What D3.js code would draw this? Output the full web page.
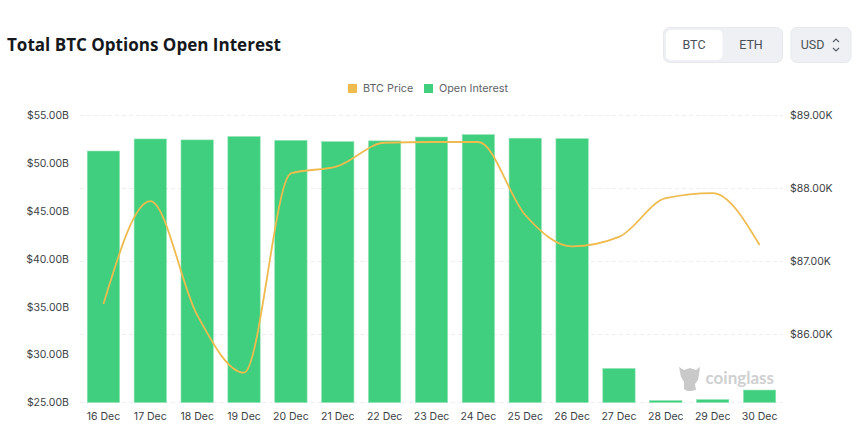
<!DOCTYPE html>
<html><head><meta charset="utf-8">
<script src="https://cdn.jsdelivr.net/npm/d3@7"></script>
<style>html,body{margin:0;padding:0;background:#fff}svg{display:block}text{font-family:Inter,Roboto,sans-serif}</style>
</head><body><svg id="c" width="860" height="425"></svg>
<script>
const categories=["16 Dec","17 Dec","18 Dec","19 Dec","20 Dec","21 Dec","22 Dec","23 Dec","24 Dec","25 Dec","26 Dec","27 Dec","28 Dec","29 Dec","30 Dec"];
const openInterest=[51.24,52.5,52.4,52.75,52.35,52.22,52.3,52.7,52.95,52.58,52.53,28.55,25.2,25.3,26.3];
const btcPrice=[86.41,87.82,86.26,85.47,88.2,88.3,88.62,88.63,88.63,87.63,87.2,87.33,87.86,87.93,87.22];
const leftTicks=[25,30,35,40,45,50,55];
const rightTicks=[86,87,88,89];
const legendItems=["BTC Price","Open Interest"];
const colors={price:"#efbb4f",oi:"#3fcf7e"};

const svg=d3.select("#c");
const x=d3.scaleBand().domain(categories).range([80,783]).paddingInner(0.31).paddingOuter(0.155);
const yL=d3.scaleLinear().domain([25,55]).range([402.5,115]);
const yR=d3.scaleLinear().domain([86,89]).range([334,115]);

svg.append("g").selectAll("line").data(rightTicks.concat([85.07])).join("line")
 .attr("x1",80).attr("x2",783).attr("y1",d=>Math.round(yR(d))+.5).attr("y2",d=>Math.round(yR(d))+.5)
 .attr("stroke","#eceef0").attr("stroke-dasharray","4 3");

svg.append("g").selectAll("rect").data(categories).join("rect")
 .attr("x",d=>x(d)).attr("width",x.bandwidth())
 .attr("y",(d,i)=>yL(openInterest[i])).attr("height",(d,i)=>yL(25)-yL(openInterest[i]))
 .attr("fill",colors.oi).attr("stroke","#8fe3b4").attr("stroke-width",0.6);

const wm=svg.append("g").attr("fill","#c9c9c9");
wm.append("path").attr("d",d3.line().curve(d3.curveLinearClosed)([[679,367],[684,370],[690,368],[696,370],[700,367],[699,374],[698,380],[695,384],[696,390],[691,391],[687,391],[684,389],[684,382],[681,377]]));
wm.append("text").attr("x",705.5).attr("y",384).attr("font-size",17).attr("font-weight",700).attr("fill","#cfd0d1").style("font-family","Lato,sans-serif").text("coinglass");

svg.append("path").datum(btcPrice).attr("fill","none").attr("stroke",colors.price).attr("stroke-width",1.8)
 .attr("d",d3.line().x((d,i)=>x(categories[i])+x.bandwidth()/2).y(d=>yR(d)).curve(d3.curveMonotoneX));

const tc="#3c3f44";
const gL=svg.append("g").attr("transform","translate(69,0)").call(d3.axisLeft(yL).tickValues(leftTicks).tickSize(0).tickPadding(0).tickFormat(d=>"$"+d.toFixed(2)+"B"));
const gR=svg.append("g").attr("transform","translate(790,0)").call(d3.axisRight(yR).tickValues(rightTicks).tickSize(0).tickPadding(0).tickFormat(d=>"$"+d.toFixed(2)+"K"));
const gB=svg.append("g").attr("transform","translate(0,403)").call(d3.axisBottom(x).tickSize(0).tickPadding(10));
gL.select(".domain").remove();gR.select(".domain").remove();gB.select(".domain").remove();
gL.selectAll("text").attr("font-size",10.5).attr("fill",tc).style("font-family","Inter,sans-serif");
gR.selectAll("text").attr("font-size",10.5).attr("fill",tc).style("font-family","Inter,sans-serif");
gB.selectAll("text").attr("font-size",10.5).attr("fill",tc).style("font-family","Inter,sans-serif");

const lg=svg.append("g");
[[348,colors.price],[424,colors.oi]].forEach((p,i)=>{
 lg.append("rect").attr("x",p[0]).attr("y",84).attr("width",9).attr("height",9).attr("fill",p[1]);
 lg.append("text").attr("x",p[0]+15).attr("y",92).attr("font-size",10.8).attr("fill","#5f6368").style("font-family","Inter,sans-serif").text(legendItems[i]);
});

svg.append("text").attr("x",7).attr("y",51).attr("font-size",17.05).attr("font-weight",700).attr("fill","#15181c").style("font-family","'Open Sans',sans-serif").text("Total BTC Options Open Interest");

svg.append("rect").attr("x",663.5).attr("y",27.5).attr("width",119).attr("height",35).attr("rx",6).attr("fill","#eef0f3").attr("stroke","#e6e8eb");
svg.append("rect").attr("x",666).attr("y",30).attr("width",56.5).attr("height",30).attr("rx",5).attr("fill","#fff");
svg.append("rect").attr("x",791).attr("y",27.5).attr("width",60).attr("height",35).attr("rx",6).attr("fill","#eef0f3").attr("stroke","#e6e8eb");
[["BTC",694],["ETH",751],["USD",812.5]].forEach(t=>svg.append("text").attr("x",t[1]).attr("y",49).attr("text-anchor","middle").attr("font-size",12.5).attr("fill","#4a5058").style("font-family","Roboto,sans-serif").text(t[0]));
svg.append("path").attr("d","M833 42l3-3 3 3M833 48l3 3 3-3").attr("fill","none").attr("stroke","#555b63").attr("stroke-width",1.1);
</script></body></html>
